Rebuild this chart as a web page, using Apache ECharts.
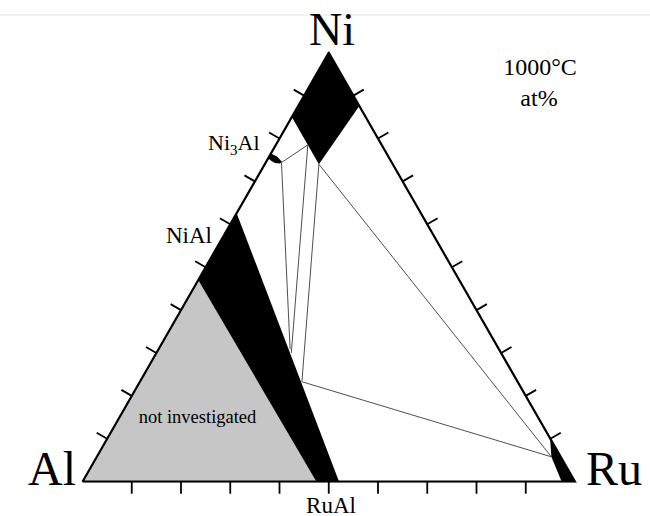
<!DOCTYPE html>
<html>
<head>
<meta charset="utf-8">
<title>Al–Ni–Ru isothermal section, 1000°C</title>
<script src="https://cdn.jsdelivr.net/npm/echarts@6/dist/echarts.min.js"></script>
<style>
  html, body { margin: 0; padding: 0; background: #fff; }
  #chart { width: 650px; height: 516px; }
</style>
</head>
<body>
<div id="chart"></div>
<script>
// Every composition below is [Ni at%, Ru at%]; Al makes up the balance.

// Outline of the composition triangle: Al -> Ru -> Ni -> Al
const triangle = [[0, 0], [0, 100], [100, 0], [0, 0]];

// Phase fields
const notInvestigated = [[0, 0], [47, 0], [0, 47.5]];
const niAlPhase = [[62.6, 0], [47, 0], [0, 47.5], [0, 52.1]];
const niSolidSolution = [[100, 0], [85, 0], [74, 11], [87.6, 12.4]];
const ni3AlPhase = [[76.5, 0], [75.8, 1.6], [74.6, 3.2], [74.2, 3.0], [74.3, 1.9], [74.8, 0.9], [75.4, 0]];
const ruPhase = [[0, 100], [10.1, 89.9], [5.8, 92.3], [0, 97.3]];

// Tie lines and three-phase triangle edges, as [from, to]
const tieLines = [
  [[74.4, 3.2], [78.5, 6.5]],
  [[74.4, 3.2], [30.9, 26.7]],
  [[78.5, 6.5], [30.0, 27.4]],
  [[74.0, 11.0], [23.3, 32.9]],
  [[74.0, 11.0], [5.8, 92.3]],
  [[23.3, 32.9], [5.8, 92.3]]
];

// Tick positions along each edge, at%
const tickValues = [10, 20, 30, 40, 50, 60, 70, 80, 90];

// Ternary [Ni, Ru] -> cartesian [x, y] on a unit-base triangle (y counted in Ni fraction)
const toXY = p => [p[1] / 100 + p[0] / 200, p[0] / 100];

const regions = [
  { pts: notInvestigated, color: '#c6c6c6' },
  { pts: niAlPhase, color: '#000' },
  { pts: niSolidSolution, color: '#000' },
  { pts: ni3AlPhase, color: '#000' },
  { pts: ruPhase, color: '#000' }
];

const S3 = Math.sqrt(3) / 2;
const ticks = [];
tickValues.forEach(v => {
  ticks.push({ p: [0, v], d: [0, 1] });            // Al–Ru edge, pointing down
  ticks.push({ p: [v, 0], d: [-S3, -0.5] });       // Al–Ni edge, pointing outward
  ticks.push({ p: [v, 100 - v], d: [S3, -0.5] });  // Ni–Ru edge, pointing outward
});
const TICK_LEN = 12;

const serif = 'Liberation Serif';
const txt = (text, x, y, size, align) => ({
  type: 'text', x, y, z: 100, zlevel: 0, silent: true,
  style: { text, fontFamily: serif, fontSize: size, fill: '#000',
           align: align || 'center', verticalAlign: 'middle' }
});

const chart = echarts.init(document.getElementById('chart'), null, { renderer: 'svg' });
chart.setOption({
  animation: false,
  backgroundColor: '#fff',
  grid: { left: 82.5, top: 52.7, width: 492.5, height: 429 },
  xAxis: { type: 'value', min: 0, max: 1, show: false },
  yAxis: { type: 'value', min: 0, max: 1, show: false },
  graphic: [
    { type: 'line', silent: true, shape: { x1: 0, y1: 15, x2: 650, y2: 15 },
      style: { stroke: '#ececec', lineWidth: 1.5 } },
    txt('Ni', 332, 29, 46),
    txt('Al', 52, 468, 48),
    txt('Ru', 614, 468, 48),
    txt('1000°C', 540, 67, 24),
    txt('at%', 539, 98, 24),
    txt('Ni', 208, 142, 22, 'left'),
    txt('3', 230, 150, 15, 'left'),
    txt('Al', 237.5, 142, 22, 'left'),
    txt('NiAl', 189, 235, 23),
    txt('not investigated', 197.5, 417, 18.5),
    txt('RuAl', 331, 505, 23)
  ],
  series: [
    {
      type: 'custom', name: 'phase fields', z: 1, silent: true,
      data: regions.map(() => [0, 0]),
      renderItem(params, api) {
        const r = regions[params.dataIndex];
        return {
          type: 'polygon',
          shape: { points: r.pts.map(p => api.coord(toXY(p))) },
          style: { fill: r.color }
        };
      }
    },
    {
      type: 'custom', name: 'tie lines', z: 2, silent: true,
      data: tieLines.map(() => [0, 0]),
      renderItem(params, api) {
        const [a, b] = tieLines[params.dataIndex];
        const pa = api.coord(toXY(a)), pb = api.coord(toXY(b));
        return {
          type: 'line',
          shape: { x1: pa[0], y1: pa[1], x2: pb[0], y2: pb[1] },
          style: { stroke: '#3a3a3a', lineWidth: 0.9 }
        };
      }
    },
    {
      type: 'line', name: 'outline', z: 3, silent: true,
      data: triangle.map(toXY), symbol: 'none',
      lineStyle: { color: '#000', width: 2.2, join: 'miter' }
    },
    {
      type: 'custom', name: 'ticks', z: 3, silent: true,
      data: ticks.map(() => [0, 0]),
      renderItem(params, api) {
        const t = ticks[params.dataIndex];
        const s = api.coord(toXY(t.p));
        return {
          type: 'line',
          shape: { x1: s[0], y1: s[1], x2: s[0] + t.d[0] * TICK_LEN, y2: s[1] + t.d[1] * TICK_LEN },
          style: { stroke: '#000', lineWidth: 1.8 }
        };
      }
    }
  ]
});
</script>
</body>
</html>
